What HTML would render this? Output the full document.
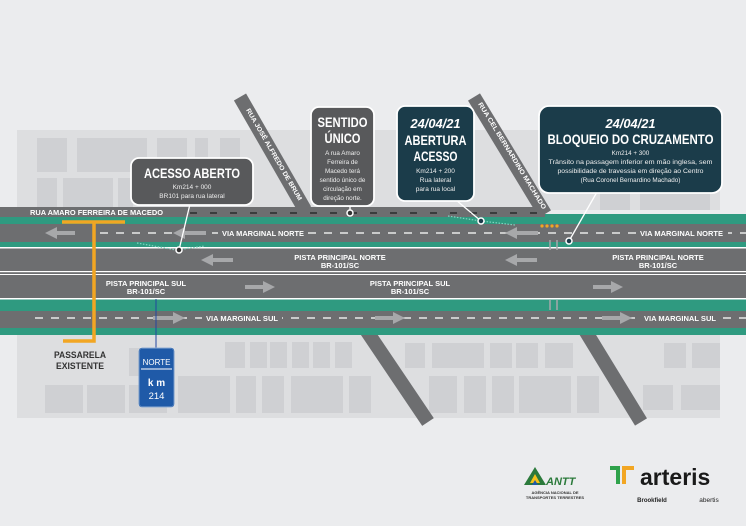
<!DOCTYPE html>
<html><head><meta charset="utf-8"><style>
html,body{margin:0;padding:0;background:#ebecee;}
svg{display:block;font-family:"Liberation Sans",sans-serif;}
.t{font-family:"Liberation Sans",sans-serif;fill:#fff;font-weight:bold;}
</style></head><body>
<svg width="746" height="526" viewBox="0 0 746 526" xmlns="http://www.w3.org/2000/svg">
<rect width="746" height="526" fill="#ebecee"/>
<rect x="17" y="130" width="703" height="80" fill="#dddee0"/>
<g fill="#cfd0d3">
<rect x="37" y="138" width="30" height="34"/><rect x="77" y="138" width="70" height="34"/><rect x="157" y="138" width="30" height="34"/><rect x="195" y="138" width="13" height="34"/><rect x="220" y="138" width="20" height="34"/>
<rect x="37" y="178" width="20" height="30"/><rect x="63" y="178" width="50" height="30"/><rect x="118" y="178" width="15" height="30"/>
<rect x="600" y="190" width="30" height="20"/><rect x="640" y="190" width="70" height="20"/>
</g>
<rect x="17" y="330" width="703" height="88" fill="#dddee0"/>
<g fill="#cfd0d3">
<rect x="129" y="348" width="15" height="28"/><rect x="45" y="385" width="38" height="28"/><rect x="87" y="385" width="38" height="28"/><rect x="129" y="385" width="38" height="28"/>
<rect x="178" y="376" width="52" height="37"/><rect x="236" y="376" width="20" height="37"/><rect x="262" y="376" width="22" height="37"/><rect x="291" y="376" width="52" height="37"/><rect x="349" y="376" width="22" height="37"/>
<rect x="225" y="342" width="20" height="26"/><rect x="250" y="342" width="17" height="26"/><rect x="270" y="342" width="17" height="26"/><rect x="292" y="342" width="17" height="26"/><rect x="313" y="342" width="17" height="26"/><rect x="335" y="342" width="17" height="26"/>
<rect x="405" y="343" width="20" height="25"/><rect x="432" y="343" width="52" height="25"/><rect x="490" y="343" width="22" height="25"/><rect x="516" y="343" width="22" height="25"/><rect x="545" y="343" width="28" height="25"/>
<rect x="429" y="376" width="28" height="37"/><rect x="464" y="376" width="22" height="37"/><rect x="492" y="376" width="22" height="37"/><rect x="519" y="376" width="52" height="37"/><rect x="577" y="376" width="22" height="37"/>
<rect x="664" y="343" width="22" height="25"/><rect x="692" y="343" width="28" height="25"/><rect x="643" y="385" width="30" height="25"/><rect x="681" y="385" width="39" height="25"/>
</g>
<g stroke="#6d6e70" stroke-width="14" fill="none">
<line x1="240" y1="97" x2="305" y2="210"/>
<line x1="474" y1="97" x2="545" y2="214"/>
<line x1="366" y1="330" x2="428" y2="422"/>
<line x1="583" y1="327" x2="641" y2="422"/>
</g>
<rect x="0" y="207" width="545" height="11" fill="#6d6e70"/>
<rect x="0" y="217" width="746" height="7" fill="#2f9a80"/>
<rect x="545" y="214" width="201" height="10" fill="#2f9a80"/>
<rect x="0" y="224" width="746" height="18" fill="#6d6e70"/>
<rect x="0" y="242" width="746" height="5" fill="#2f9a80"/>
<rect x="0" y="247" width="746" height="28" fill="#6d6e70"/>
<rect x="0" y="247" width="746" height="1.5" fill="#fff"/>
<rect x="0" y="271" width="746" height="1.2" fill="#fff"/>
<rect x="0" y="274" width="746" height="1.2" fill="#fff"/>
<rect x="0" y="275" width="746" height="24" fill="#6d6e70"/>
<rect x="0" y="298" width="746" height="1.5" fill="#fff"/>
<rect x="0" y="299.5" width="746" height="12" fill="#2f9a80"/>
<rect x="0" y="311" width="746" height="17" fill="#6d6e70"/>
<rect x="0" y="328" width="746" height="7" fill="#2f9a80"/>
<line x1="100" y1="233" x2="746" y2="233" stroke="#e8e8e8" stroke-width="1.5" stroke-dasharray="8,8"/>
<line x1="35" y1="318" x2="746" y2="318" stroke="#e8e8e8" stroke-width="1.5" stroke-dasharray="8,8"/>
<line x1="190" y1="213" x2="545" y2="213" stroke="#2a2b2c" stroke-width="1.5" stroke-dasharray="7,13"/>
<!-- label gaps -->
<g fill="#6d6e70">
<rect x="218" y="228" width="90" height="9"/><rect x="636" y="228" width="92" height="9"/>
<rect x="202" y="313" width="80" height="9"/><rect x="640" y="313" width="80" height="9"/>
</g>
<g fill="#a7a8aa">
<path d="M45 233 l12 -6 v4 h18 v4 h-18 v4z"/>
<path d="M173 233 l12 -6 v4 h21 v4 h-21 v4z"/>
<path d="M505 233 l12 -6 v4 h21 v4 h-21 v4z"/>
<path d="M201 260 l12 -6 v4 h20 v4 h-20 v4z"/>
<path d="M505 260 l12 -6 v4 h20 v4 h-20 v4z"/>
<path d="M275 287 l-12 -6 v4 h-18 v4 h18 v4z"/>
<path d="M623 287 l-12 -6 v4 h-18 v4 h18 v4z"/>
<path d="M185 318 l-12 -6 v4 h-20 v4 h20 v4z"/>
<path d="M405 318 l-12 -6 v4 h-18 v4 h18 v4z"/>
<path d="M632 318 l-12 -6 v4 h-18 v4 h18 v4z"/>
</g>
<g stroke="#a7a8aa" stroke-width="1.5"><line x1="550" y1="240" x2="550" y2="250"/><line x1="557" y1="240" x2="557" y2="250"/><line x1="550" y1="300" x2="550" y2="310"/><line x1="557" y1="300" x2="557" y2="310"/></g>
<path d="M137 243 L176 250 L205 246" stroke="#7fd6c0" stroke-width="1.2" stroke-dasharray="1.5,1.5" fill="none"/>
<path d="M448 216 L481 221 L515 225" stroke="#7fd6c0" stroke-width="1.2" stroke-dasharray="1.5,1.5" fill="none"/>
<g fill="#f2a623"><circle cx="542" cy="226" r="1.6"/><circle cx="547" cy="226" r="1.6"/><circle cx="552" cy="226" r="1.6"/><circle cx="557" cy="226" r="1.6"/></g>
<g class="t" font-size="7.5" lengthAdjust="spacingAndGlyphs">
<text x="30" y="215" textLength="133" lengthAdjust="spacingAndGlyphs">RUA AMARO FERREIRA DE MACEDO</text>
<text x="222" y="236" textLength="82" lengthAdjust="spacingAndGlyphs">VIA MARGINAL NORTE</text>
<text x="640" y="236" textLength="83" lengthAdjust="spacingAndGlyphs">VIA MARGINAL NORTE</text>
<text x="340" y="260" text-anchor="middle">PISTA PRINCIPAL NORTE</text><text x="340" y="268" text-anchor="middle">BR-101/SC</text>
<text x="658" y="260" text-anchor="middle">PISTA PRINCIPAL NORTE</text><text x="658" y="268" text-anchor="middle">BR-101/SC</text>
<text x="146" y="286" text-anchor="middle">PISTA PRINCIPAL SUL</text><text x="146" y="294" text-anchor="middle">BR-101/SC</text>
<text x="410" y="286" text-anchor="middle">PISTA PRINCIPAL SUL</text><text x="410" y="294" text-anchor="middle">BR-101/SC</text>
<text x="206" y="321" textLength="72" lengthAdjust="spacingAndGlyphs">VIA MARGINAL SUL</text>
<text x="644" y="321" textLength="72" lengthAdjust="spacingAndGlyphs">VIA MARGINAL SUL</text>
</g>
<g class="t" font-size="6.5">
<text transform="translate(246,110) rotate(60)" textLength="105" lengthAdjust="spacingAndGlyphs">RUA JOSÉ ALFREDO DE BRUM</text>
<text transform="translate(478,104) rotate(58.5)" textLength="124" lengthAdjust="spacingAndGlyphs">RUA CEL BERNARDINO MACHADO</text>
</g>
<path d="M62 222 H125 M94 222 V341 H63" stroke="#f2a623" stroke-width="3.5" fill="none"/>
<text x="80" y="358" font-size="9" font-weight="bold" fill="#333" text-anchor="middle" textLength="52" lengthAdjust="spacingAndGlyphs">PASSARELA</text>
<text x="80" y="369" font-size="9" font-weight="bold" fill="#333" text-anchor="middle" textLength="48" lengthAdjust="spacingAndGlyphs">EXISTENTE</text>
<line x1="156" y1="299" x2="156" y2="349" stroke="#2247a0" stroke-width="1"/>
<rect x="139" y="348" width="35" height="59" rx="3" fill="#1f5aa8" stroke="#fff" stroke-width="1"/>
<rect x="139" y="348" width="35" height="59" rx="3" fill="none" stroke="#1f5aa8" stroke-width="0.6"/>
<line x1="141" y1="369" x2="172" y2="369" stroke="#fff" stroke-width="1"/>
<text x="156.5" y="365" font-size="8" fill="#fff" text-anchor="middle">NORTE</text>
<text x="156.5" y="386" font-size="10" fill="#fff" font-weight="bold" text-anchor="middle">k m</text>
<text x="156.5" y="399" font-size="9.5" fill="#fff" text-anchor="middle">214</text>
<g stroke="#fff" stroke-width="1.3">
<line x1="190" y1="204" x2="179" y2="250"/>
<line x1="350" y1="206" x2="350" y2="213"/>
<line x1="456" y1="200" x2="481" y2="221"/>
<line x1="597" y1="192" x2="569" y2="241"/>
</g>
<g stroke="#fff" stroke-width="1.5" fill="#333"><circle cx="179" cy="250" r="3"/><circle cx="350" cy="213" r="3"/><circle cx="481" cy="221" r="3" fill="#1b3c4a"/><circle cx="569" cy="241" r="3" fill="#1b3c4a"/></g>
<rect x="131" y="158" width="122" height="47" rx="8" fill="#58595b" stroke="#fff" stroke-width="1.8"/>
<text x="192" y="178" class="t" font-size="14" text-anchor="middle" textLength="96" lengthAdjust="spacingAndGlyphs">ACESSO ABERTO</text>
<text x="192" y="189" font-size="6.5" fill="#eee" text-anchor="middle">Km214 + 000</text>
<text x="192" y="198" font-size="6.5" fill="#eee" text-anchor="middle">BR101 para rua lateral</text>
<rect x="311" y="107" width="63" height="99" rx="8" fill="#58595b" stroke="#fff" stroke-width="1.8"/>
<text x="342.5" y="127" class="t" font-size="14" text-anchor="middle" textLength="50" lengthAdjust="spacingAndGlyphs">SENTIDO</text>
<text x="342.5" y="143" class="t" font-size="14" text-anchor="middle" textLength="36" lengthAdjust="spacingAndGlyphs">ÚNICO</text>
<g font-size="6.3" fill="#eee" text-anchor="middle">
<text x="342.5" y="155">A rua Amaro</text><text x="342.5" y="164">Ferreira de</text><text x="342.5" y="173">Macedo terá</text><text x="342.5" y="182">sentido único de</text><text x="342.5" y="191">circulação em</text><text x="342.5" y="200">direção norte.</text></g>
<rect x="397" y="106" width="77" height="95" rx="8" fill="#1b3c4a" stroke="#fff" stroke-width="1.8"/>
<text x="435.5" y="128" class="t" font-size="13" font-style="italic" text-anchor="middle" textLength="50" lengthAdjust="spacingAndGlyphs">24/04/21</text>
<text x="435.5" y="145" class="t" font-size="14" text-anchor="middle" textLength="62" lengthAdjust="spacingAndGlyphs">ABERTURA</text>
<text x="435.5" y="161" class="t" font-size="14" text-anchor="middle" textLength="44" lengthAdjust="spacingAndGlyphs">ACESSO</text>
<g font-size="6.5" fill="#eee" text-anchor="middle"><text x="435.5" y="173">Km214 + 200</text><text x="435.5" y="182">Rua lateral</text><text x="435.5" y="191">para rua local</text></g>
<rect x="539" y="106" width="183" height="87" rx="10" fill="#1b3c4a" stroke="#fff" stroke-width="1.8"/>
<text x="630.5" y="128" class="t" font-size="13" font-style="italic" text-anchor="middle" textLength="50" lengthAdjust="spacingAndGlyphs">24/04/21</text>
<text x="630.5" y="144" class="t" font-size="14" text-anchor="middle" textLength="166" lengthAdjust="spacingAndGlyphs">BLOQUEIO DO CRUZAMENTO</text>
<g font-size="6.3" fill="#eee" text-anchor="middle"><text x="630.5" y="155">Km214 + 300</text><text x="630.5" y="164" textLength="164" lengthAdjust="spacingAndGlyphs">Trânsito na passagem inferior em mão inglesa, sem</text><text x="630.5" y="173" textLength="146" lengthAdjust="spacingAndGlyphs">possibilidade de travessia em direção ao Centro</text><text x="630.5" y="182">(Rua Coronel Bernardino Machado)</text></g>
<path d="M535 467 l-11 18 h22z" fill="#2b7a3b"/><path d="M535 474 l-5 9 h10z" fill="#f3c21a"/><path d="M535 480 l-3 5 h6z" fill="#1f5aa8"/>
<text x="546" y="485" font-size="11" font-weight="bold" fill="#2b7a3b" font-style="italic">ANTT</text>
<text x="555" y="494" font-size="4" fill="#333" text-anchor="middle" font-weight="bold">AGÊNCIA NACIONAL DE</text>
<text x="555" y="499" font-size="4" fill="#333" text-anchor="middle" font-weight="bold">TRANSPORTES TERRESTRES</text>
<path d="M610 466 h10 v18 h-4 v-14 h-6z" fill="#2fa24b"/><path d="M622 466 h12 v4 h-8 v14 h-4z" fill="#f2a623"/>
<text x="640" y="485" font-size="23" fill="#1a1a1a" font-weight="bold">arteris</text>
<text x="652" y="502" font-size="6" fill="#222" font-weight="bold" text-anchor="middle">Brookfield</text>
<text x="709" y="502" font-size="6.5" fill="#222" text-anchor="middle">abertis</text>
</svg>
</body></html>
